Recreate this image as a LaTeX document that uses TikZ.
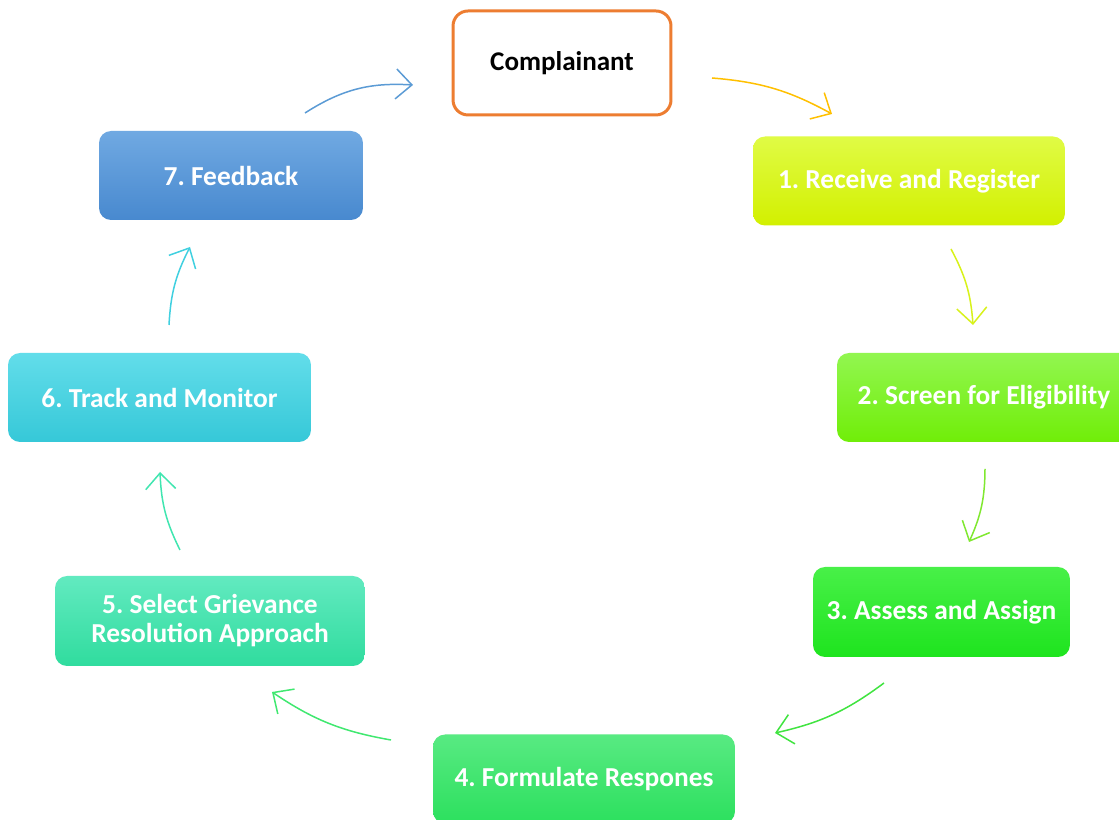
\documentclass[tikz,border=0pt]{standalone}
\usepackage{fontspec}
\setmainfont{Carlito}
\usepackage{xcolor}
\usetikzlibrary{arrows.meta}
\frenchspacing

\definecolor{complainOrange}{HTML}{ED7D31}
\definecolor{recvTop}{HTML}{E0FB45}
\definecolor{recvBot}{HTML}{D2F000}
\definecolor{screenTop}{HTML}{92F650}
\definecolor{screenBot}{HTML}{70EE08}
\definecolor{assessTop}{HTML}{48F048}
\definecolor{assessBot}{HTML}{1EE41E}
\definecolor{formTop}{HTML}{58EA82}
\definecolor{formBot}{HTML}{2CE05E}
\definecolor{selectTop}{HTML}{62EAC0}
\definecolor{selectBot}{HTML}{30DC9E}
\definecolor{trackTop}{HTML}{62DDEA}
\definecolor{trackBot}{HTML}{36C8D8}
\definecolor{feedTop}{HTML}{70A9E2}
\definecolor{feedBot}{HTML}{4889CF}

\tikzset{
	stepbox/.style={rounded corners=0.24cm, minimum height=1.78cm, inner sep=0pt,
		text=white, align=center, font=\bfseries\fontsize{15.6}{16.5}\selectfont},
	link/.style={line width=0.85pt, bend left=12,
		-{Straight Barb[length=0.32cm, width=0.6cm, line width=0.85pt]}}
}

\begin{document}
\begin{tikzpicture}[x=0.02cm, y=0.02cm]
		\clip (0,0) rectangle (1119,820);
		\fill [white] (0,0) rectangle (1119,820);
	
		\node [draw=complainOrange, line width=1.7pt, rounded corners=0.3cm, fill=white,
			minimum width=4.36cm, minimum height=2.08cm,
			font=\bfseries\fontsize{15.4}{18}\selectfont] (complainant) at (562,757) {Complainant};
		
		\node [stepbox, minimum width=6.24cm, top color=recvTop, bottom color=recvBot] (receive) at (909,639) {1. Receive and Register};
		\node [stepbox, minimum width=5.88cm, top color=screenTop, bottom color=screenBot] (screen) at (984,422.5) {2. Screen for Eligibility};
		\node [stepbox, minimum width=5.14cm, minimum height=1.8cm, top color=assessTop, bottom color=assessBot] (assess) at (941.5,208) {3. Assess and Assign};
		\node [stepbox, minimum width=6.04cm, top color=formTop, bottom color=formBot] (formulate) at (584,41) {4. Formulate Respones};
		\node [stepbox, minimum width=6.2cm, minimum height=1.8cm, top color=selectTop, bottom color=selectBot] (select) at (210,199) {5. Select Grievance\\Resolution Approach};
		\node [stepbox, minimum width=6.06cm, top color=trackTop, bottom color=trackBot] (track) at (159.5,422.5) {6. Track and Monitor};
		\node [stepbox, minimum width=5.28cm, top color=feedTop, bottom color=feedBot] (feedback) at (231,644.5) {7. Feedback};
		
		\coordinate (complainant exit) at (712,742);
		\coordinate (receive entry) at (832,706);
		\coordinate (receive exit) at (951,571);
		\coordinate (screen entry) at (973,495);
		\coordinate (screen exit) at (985,351);
		\coordinate (assess entry) at (969,278);
		\coordinate (assess exit) at (884,137);
		\coordinate (formulate entry) at (775,87);
		\coordinate (formulate exit) at (391,80);
		\coordinate (select entry) at (272,128);
		\coordinate (select exit) at (180,270);
		\coordinate (track entry) at (160,348);
		\coordinate (track exit) at (169,495);
		\coordinate (feedback entry) at (190,573);
		\coordinate (feedback exit) at (305,707);
		\coordinate (complainant entry) at (413,735);
		
		\draw [link, color={rgb,255:red,255;green,192;blue,0}] (complainant exit) to (receive entry);
		\draw [link, color={rgb,255:red,216;green,242;blue,26}] (receive exit) to (screen entry);
		\draw [link, color={rgb,255:red,128;green,232;blue,48}] (screen exit) to (assess entry);
		\draw [link, color={rgb,255:red,64;green,228;blue,64}] (assess exit) to (formulate entry);
		\draw [link, color={rgb,255:red,64;green,232;blue,112}] (formulate exit) to (select entry);
		\draw [link, color={rgb,255:red,64;green,230;blue,176}] (select exit) to (track entry);
		\draw [link, color={rgb,255:red,64;green,208;blue,224}] (track exit) to (feedback entry);
		\draw [link, bend left=18, color={rgb,255:red,91;green,155;blue,213}] (feedback exit) to (complainant entry);
		
	\end{tikzpicture}
\end{document}
